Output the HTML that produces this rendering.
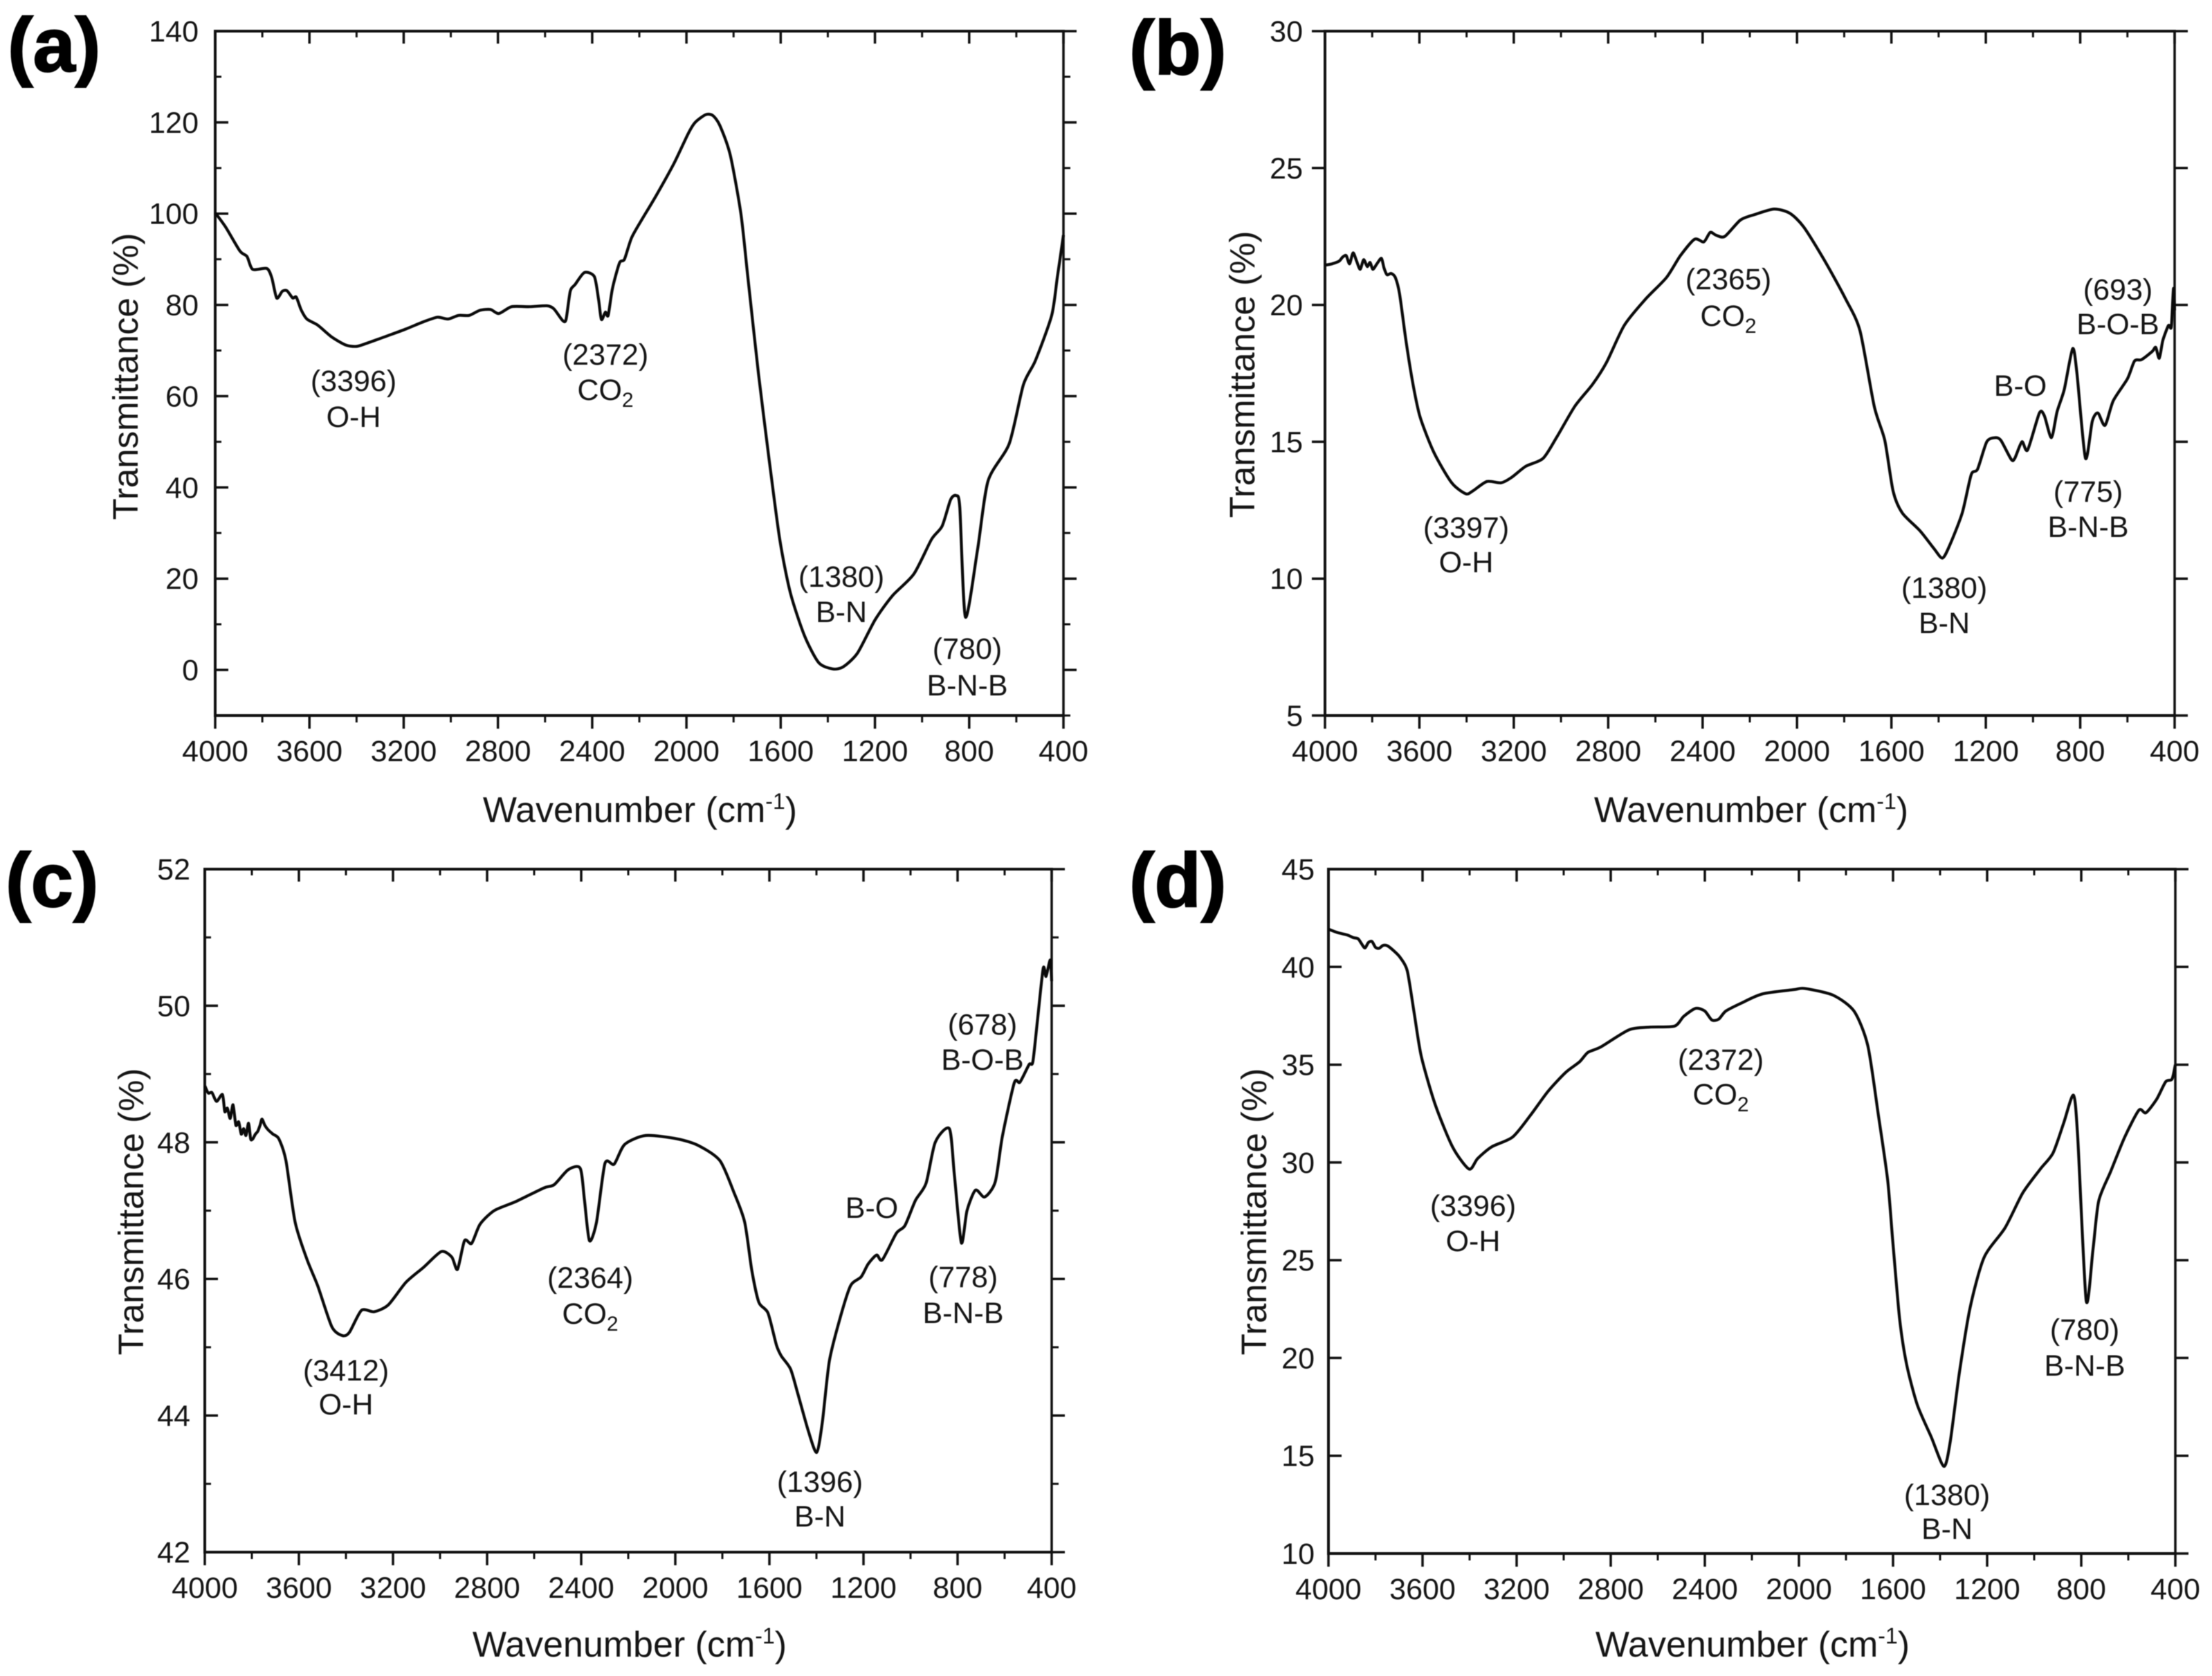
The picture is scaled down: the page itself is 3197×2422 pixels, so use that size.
<!DOCTYPE html>
<html lang="en">
<head>
<meta charset="utf-8">
<title>FTIR spectra panels</title>
<style>
html,body{margin:0;padding:0;background:#fff;}
svg{display:block;filter:blur(0.6px);}
text{font-family:"Liberation Sans",Arial,sans-serif;fill:#151515;}
.tick{font-size:43px;}
.note{font-size:43px;text-anchor:middle;}
.axis-x{font-size:52px;text-anchor:middle;}
.axis-y{font-size:51px;text-anchor:middle;}
.letter{font-size:110px;font-weight:bold;fill:#000;stroke:#000;stroke-width:2px;}
</style>
</head>
<body>
<svg id="figure" xmlns="http://www.w3.org/2000/svg" width="3197" height="2422" viewBox="0 0 3197 2422">
<rect width="3197" height="2422" fill="#fff"/>

<g id="panel-a">
<text class="letter" x="11" y="103">(a)</text>
<text class="axis-x" x="925" y="1188">Wavenumber (cm<tspan dy="-19" font-size="32">-1</tspan><tspan dy="19">)</tspan></text>
<text class="axis-y" transform="translate(199,544) rotate(-90)">Transmittance (%)</text>
<g><text class="note" x="511" y="565">(3396)</text><text class="note" x="511" y="617">O-H</text></g>
<g><text class="note" x="875" y="527">(2372)</text><text class="note" x="875" y="578">CO<tspan dy="10" font-size="30">2</tspan></text></g>
<g><text class="note" x="1216" y="848">(1380)</text><text class="note" x="1216" y="899">B-N</text></g>
<g><text class="note" x="1398" y="952">(780)</text><text class="note" x="1398" y="1005">B-N-B</text></g>
</g>

<g id="panel-b">
<text class="letter" x="1632" y="107">(b)</text>
<text class="axis-x" x="2531" y="1188">Wavenumber (cm<tspan dy="-19" font-size="32">-1</tspan><tspan dy="19">)</tspan></text>
<text class="axis-y" transform="translate(1813,541) rotate(-90)">Transmittance (%)</text>
<g><text class="note" x="2119" y="777">(3397)</text><text class="note" x="2119" y="827">O-H</text></g>
<g><text class="note" x="2498" y="418">(2365)</text><text class="note" x="2498" y="471">CO<tspan dy="10" font-size="30">2</tspan></text></g>
<g><text class="note" x="2810" y="864">(1380)</text><text class="note" x="2810" y="915">B-N</text></g>
<g><text class="note" x="3018" y="725">(775)</text><text class="note" x="3018" y="776">B-N-B</text></g>
<text class="note" x="2920" y="572">B-O</text>
<g><text class="note" x="3061" y="433">(693)</text><text class="note" x="3061" y="483">B-O-B</text></g>
</g>

<g id="panel-c">
<text class="letter" x="8" y="1310">(c)</text>
<text class="axis-x" x="910" y="2394">Wavenumber (cm<tspan dy="-19" font-size="32">-1</tspan><tspan dy="19">)</tspan></text>
<text class="axis-y" transform="translate(207,1751) rotate(-90)">Transmittance (%)</text>
<g><text class="note" x="500" y="1995">(3412)</text><text class="note" x="500" y="2044">O-H</text></g>
<g><text class="note" x="853" y="1861">(2364)</text><text class="note" x="853" y="1913">CO<tspan dy="10" font-size="30">2</tspan></text></g>
<g><text class="note" x="1185" y="2156">(1396)</text><text class="note" x="1185" y="2206">B-N</text></g>
<g><text class="note" x="1392" y="1860">(778)</text><text class="note" x="1392" y="1912">B-N-B</text></g>
<text class="note" x="1260" y="1760">B-O</text>
<g><text class="note" x="1420" y="1495">(678)</text><text class="note" x="1420" y="1546">B-O-B</text></g>
</g>

<g id="panel-d">
<text class="letter" x="1632" y="1310">(d)</text>
<text class="axis-x" x="2533" y="2394">Wavenumber (cm<tspan dy="-19" font-size="32">-1</tspan><tspan dy="19">)</tspan></text>
<text class="axis-y" transform="translate(1830,1751) rotate(-90)">Transmittance (%)</text>
<g><text class="note" x="2129" y="1757">(3396)</text><text class="note" x="2129" y="1808">O-H</text></g>
<g><text class="note" x="2487" y="1546">(2372)</text><text class="note" x="2487" y="1596">CO<tspan dy="10" font-size="30">2</tspan></text></g>
<g><text class="note" x="2814" y="2175">(1380)</text><text class="note" x="2814" y="2224">B-N</text></g>
<g><text class="note" x="3013" y="1936">(780)</text><text class="note" x="3013" y="1988">B-N-B</text></g>
</g>
</svg>

<script>
var xMajorTicks = [4000,3600,3200,2800,2400,2000,1600,1200,800,400];
var xMinorTicks = [3800,3400,3000,2600,2200,1800,1400,1000,600];

var aYMajorTicks = [140,120,100,80,60,40,20,0];
var aYMinorTicks = [130,110,90,70,50,30,10,-10];
var aWavenumbers = [4000,3955,3895,3865,3841,3781,3760,3739,3715,3695,3671,3656,3635,3611,3566,3506,3446,3401,3356,3281,3191,3116,3057,3012,2967,2922,2877,2832,2796,2742,2667,2592,2562,2526,2511,2493,2472,2433,2391,2373,2361,2344,2332,2314,2284,2263,2233,2188,2128,2053,1993,1963,1918,1888,1858,1814,1769,1739,1694,1649,1604,1559,1499,1439,1379,1334,1274,1199,1125,1035,960,915,879,855,840,816,765,720,630,570,519,450,426,400];
var aTransmittance = [100.2,97,91.8,90.6,87.8,88,86,81.5,83,83.1,81.5,81.7,78.9,76.9,75.6,73,71.2,70.9,71.6,73,74.7,76.3,77.3,76.9,77.7,77.7,78.8,79,78.1,79.6,79.6,79.8,79.1,76.6,76.8,83,84.5,87.1,86.2,81.2,76.8,78.4,77.7,83.6,89.2,90,94.7,98.8,104,111,117.5,120,121.7,121.5,119.3,112.8,100,85.9,64.8,46.1,28.6,16.9,7.5,1.6,0.2,0.7,3.7,11,16.3,21,28.6,31.5,37.3,38.2,35.6,11.6,26.2,41.4,49.6,62.5,67.8,77.7,86,95.3];

var bYMajorTicks = [30,25,20,15,10,5];
var bYMinorTicks = [];
var bWavenumbers = [4000,3970,3940,3925,3910,3896,3881,3866,3851,3836,3821,3809,3797,3780,3761,3750,3737,3720,3702,3684,3657,3627,3597,3538,3463,3403,3374,3314,3254,3209,3150,3075,3016,2941,2866,2807,2732,2643,2553,2494,2434,2395,2368,2344,2306,2240,2180,2097,2031,1972,1882,1793,1733,1673,1628,1593,1554,1479,1420,1384,1354,1300,1262,1235,1196,1160,1136,1092,1077,1047,1023,973,952,922,898,868,832,814,778,749,725,695,660,600,570,540,495,480,465,450,426,414,405,400];
var bTransmittance = [21.45,21.5,21.6,21.75,21.8,21.5,21.9,21.6,21.3,21.65,21.4,21.55,21.3,21.5,21.7,21.35,21.1,21.15,21,20.4,18.7,17.1,15.9,14.6,13.5,13.1,13.2,13.55,13.5,13.7,14.1,14.4,15.2,16.3,17.1,17.9,19.25,20.2,21,21.8,22.4,22.3,22.65,22.55,22.5,23.1,23.3,23.5,23.35,22.85,21.6,20.2,19.05,16.3,15.05,13.2,12.4,11.75,11.1,10.75,11.2,12.4,13.8,14,15,15.15,15.05,14.35,14.4,15,14.7,16.05,15.95,15.15,16.1,16.9,18.4,17.5,14.4,15.75,16.05,15.6,16.5,17.3,17.95,18,18.3,18.45,18.05,18.7,19.25,19.2,20.6,19.8];

var cYMajorTicks = [52,50,48,46,44,42];
var cYMinorTicks = [51,49,47,45,43];
var cWavenumbers = [4000,3985,3970,3950,3925,3915,3904,3892,3880,3868,3856,3845,3835,3825,3814,3805,3796,3785,3775,3765,3757,3745,3730,3710,3685,3655,3616,3565,3520,3460,3415,3385,3334,3280,3220,3145,3070,2995,2950,2926,2896,2866,2830,2770,2680,2560,2515,2455,2404,2386,2365,2335,2299,2260,2215,2125,1990,1900,1810,1750,1705,1675,1645,1606,1570,1549,1510,1480,1435,1399,1375,1345,1300,1255,1210,1180,1144,1120,1060,1024,979,934,895,835,814,784,760,724,685,640,610,559,535,496,480,460,436,424,406,400];
var cTransmittance = [48.83,48.72,48.73,48.6,48.7,48.45,48.5,48.35,48.55,48.25,48.3,48.12,48.2,48.1,48.28,48.05,48.05,48.12,48.16,48.25,48.34,48.25,48.18,48.12,48.05,47.73,46.83,46.28,45.9,45.3,45.17,45.22,45.54,45.52,45.62,45.95,46.17,46.4,46.32,46.14,46.56,46.52,46.8,47,47.13,47.33,47.38,47.6,47.62,47.15,46.56,46.83,47.69,47.68,47.97,48.1,48.05,47.95,47.73,47.26,46.83,46.13,45.66,45.5,45.03,44.87,44.68,44.33,43.78,43.46,43.9,44.8,45.42,45.9,46.03,46.22,46.35,46.28,46.67,46.78,47.15,47.4,48,48.2,47.54,46.53,47,47.3,47.2,47.42,48.08,48.87,48.88,49.14,49.18,49.8,50.55,50.43,50.67,50.36];

var dYMajorTicks = [45,40,35,30,25,20,15,10];
var dYMinorTicks = [];
var dWavenumbers = [4000,3960,3919,3895,3874,3860,3845,3830,3815,3800,3785,3768,3749,3720,3695,3665,3635,3605,3546,3471,3402,3366,3306,3217,3142,3067,2992,2933,2897,2843,2723,2634,2529,2490,2439,2400,2370,2341,2311,2245,2155,2021,1976,1856,1766,1707,1662,1623,1602,1572,1542,1497,1438,1384,1357,1318,1273,1213,1124,1049,974,920,875,833,815,779,750,726,675,615,555,525,480,441,414,400];
var dTransmittance = [41.93,41.75,41.63,41.5,41.44,41.2,40.97,41.25,41.3,41,40.95,41.1,41.08,40.8,40.48,39.8,37.6,35.41,32.95,30.76,29.66,30.2,30.8,31.3,32.4,33.63,34.6,35.14,35.63,35.9,36.78,36.92,36.97,37.47,37.88,37.74,37.28,37.33,37.74,38.15,38.62,38.84,38.9,38.56,37.74,35.96,32.4,29.11,26.1,22,19.66,17.61,15.97,14.46,15.7,19.25,22.54,25.14,26.65,28.43,29.66,30.48,32,33.44,31.3,22.95,25.55,28.02,29.53,31.3,32.67,32.54,33.22,34.13,34.26,35];

var NS = 'http://www.w3.org/2000/svg';

function line(parent, x1, y1, x2, y2, width) {
  var el = document.createElementNS(NS, 'line');
  el.setAttribute('x1', x1);
  el.setAttribute('y1', y1);
  el.setAttribute('x2', x2);
  el.setAttribute('y2', y2);
  el.setAttribute('stroke', '#111');
  el.setAttribute('stroke-width', width);
  parent.appendChild(el);
  return el;
}

function label(parent, x, y, anchor, content) {
  var el = document.createElementNS(NS, 'text');
  el.setAttribute('class', 'tick');
  el.setAttribute('x', x);
  el.setAttribute('y', y);
  el.setAttribute('text-anchor', anchor);
  el.textContent = content;
  parent.appendChild(el);
  return el;
}

function smoothPath(p) {
  var k = 1 / 8;
  var d = 'M' + p[0][0].toFixed(1) + ' ' + p[0][1].toFixed(1);
  for (var i = 0; i < p.length - 1; i++) {
    var p0 = p[Math.max(i - 1, 0)];
    var p1 = p[i];
    var p2 = p[i + 1];
    var p3 = p[Math.min(i + 2, p.length - 1)];
    var c1x = p1[0] + (p2[0] - p0[0]) * k;
    var c1y = p1[1] + (p2[1] - p0[1]) * k;
    var c2x = p2[0] - (p3[0] - p1[0]) * k;
    var c2y = p2[1] - (p3[1] - p1[1]) * k;
    d += 'C' + c1x.toFixed(1) + ' ' + c1y.toFixed(1) + ' ' + c2x.toFixed(1) + ' ' + c2y.toFixed(1) + ' ' + p2[0].toFixed(1) + ' ' + p2[1].toFixed(1);
  }
  return d;
}

function drawPanel(panelId, frame, xs, ys, yMajor, yMinor) {
  var panel = document.getElementById(panelId);
  function xScale(w) { return frame.left + (4000 - w) / 3600 * (frame.right - frame.left); }
  function yScale(v) { return frame.bottom - (v - frame.yMin) / (frame.yMax - frame.yMin) * (frame.bottom - frame.top); }

  var axes = document.createElementNS(NS, 'g');
  
  
  panel.appendChild(axes);
  var frameLeft = line(axes, frame.left, frame.top - 2, frame.left, frame.bottom + 2, 4);
  
  
  var frameRight = line(axes, frame.right, frame.top - 2, frame.right, frame.bottom + 2, 3.5);
  
  
  var frameTop = line(axes, frame.left, frame.top, frame.right, frame.top, 4);
  
  
  var frameBottom = line(axes, frame.left, frame.bottom, frame.right, frame.bottom, 4);
  
  

  xMajorTicks.forEach(function (w) {
    var x = xScale(w);
    var top = line(axes, x, frame.top, x, frame.top + 18, 3.5);
    
    
    var bottom = line(axes, x, frame.bottom, x, frame.bottom + 19, 3.5);
    
    
    var t = label(axes, x, frame.bottom + 66, 'middle', String(w));
    
    
  });
  xMinorTicks.forEach(function (w) {
    var x = xScale(w);
    var top = line(axes, x, frame.top, x, frame.top + 9, 3);
    
    
    var bottom = line(axes, x, frame.bottom, x, frame.bottom + 10, 3);
    
    
  });
  var leftDir = frame.leftOutward ? -1 : 1;
  yMajor.forEach(function (v) {
    var y = yScale(v);
    var left = line(axes, frame.left, y, frame.left + leftDir * 19, y, 3.5);
    
    
    var right = line(axes, frame.right, y, frame.right + 19, y, 3.5);
    
    
    var t = label(axes, frame.left - frame.labelGap, y + 15, 'end', String(v));
    
    
  });
  yMinor.forEach(function (v) {
    var y = yScale(v);
    var left = line(axes, frame.left, y, frame.left + leftDir * 9, y, 3);
    
    
    var right = line(axes, frame.right, y, frame.right + 10, y, 3);
    
    
  });

  var pts = xs.map(function (w, i) { return [xScale(w), yScale(ys[i])]; });
  var curve = document.createElementNS(NS, 'path');
  curve.setAttribute('d', smoothPath(pts));
  curve.setAttribute('fill', 'none');
  curve.setAttribute('stroke', '#0a0a0a');
  curve.setAttribute('stroke-width', '4.2');
  curve.setAttribute('stroke-linejoin', 'round');
  
  
  panel.appendChild(curve);
}

var frameA = {left:311, right:1537, top:45, bottom:1034, yMin:-10, yMax:140, labelGap:24, leftOutward:false};
var frameB = {left:1915, right:3143, top:45, bottom:1034, yMin:5, yMax:30, labelGap:32, leftOutward:true};
var frameC = {left:296, right:1520, top:1256, bottom:2243, yMin:42, yMax:52, labelGap:21, leftOutward:false};
var frameD = {left:1920, right:3144, top:1256, bottom:2245, yMin:10, yMax:45, labelGap:20, leftOutward:false};

drawPanel('panel-a', frameA, aWavenumbers, aTransmittance, aYMajorTicks, aYMinorTicks);
drawPanel('panel-b', frameB, bWavenumbers, bTransmittance, bYMajorTicks, bYMinorTicks);
drawPanel('panel-c', frameC, cWavenumbers, cTransmittance, cYMajorTicks, cYMinorTicks);
drawPanel('panel-d', frameD, dWavenumbers, dTransmittance, dYMajorTicks, dYMinorTicks);
</script>
</body>
</html>
